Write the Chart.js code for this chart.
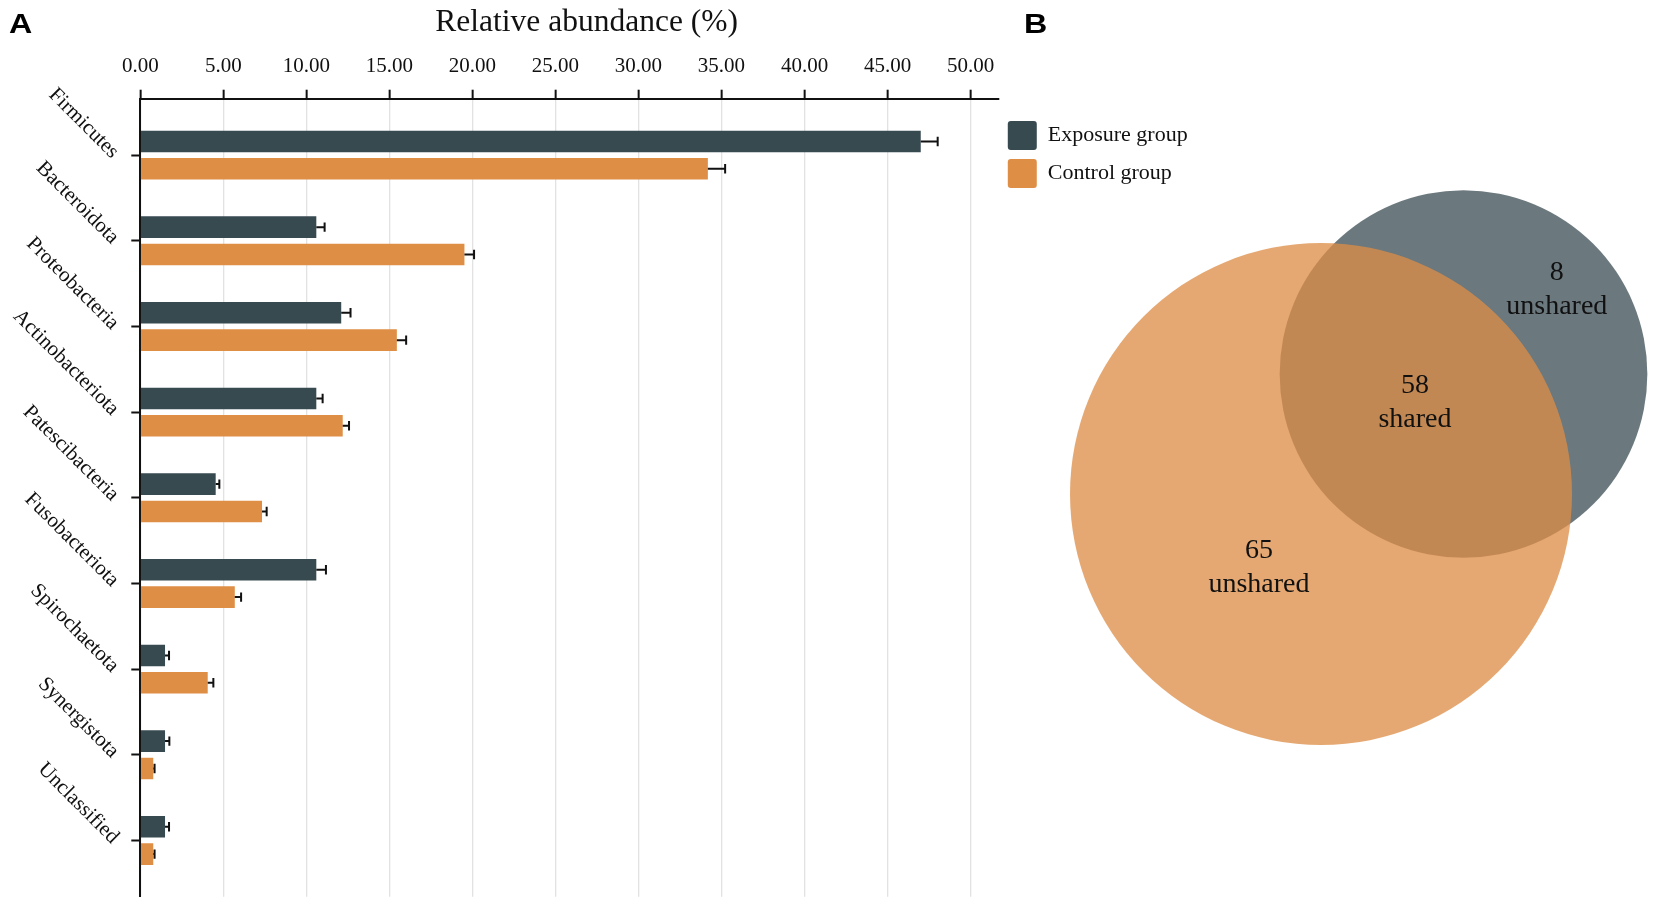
<!DOCTYPE html>
<html>
<head>
<meta charset="utf-8">
<script src="https://cdn.jsdelivr.net/npm/chart.js@4.4.1/dist/chart.umd.min.js"></script>
<style>
  html, body { margin:0; padding:0; background:#ffffff; width:1654px; height:903px; overflow:hidden; }
  #wrap { position:relative; width:1654px; height:903px; }
  canvas { position:absolute; }
  .panel { position:absolute; font-family:"Liberation Sans", Arial, sans-serif; font-weight:bold; font-size:28px; line-height:28px; color:#000; transform:scaleX(1.15); transform-origin:left top; }
</style>
</head>
<body>
<div id="wrap">
  <canvas id="bar" width="1654" height="903" style="left:0;top:0;width:1654px;height:903px"></canvas>
  <canvas id="venn" width="654" height="723" style="left:1000px;top:180px;width:654px;height:723px"></canvas>
  <div class="panel" style="left:9px;top:9.6px">A</div>
  <div class="panel" style="left:1024px;top:9.6px">B</div>
</div>
<script>
// ---------- data ----------
const categories = ['Firmicutes', 'Bacteroidota', 'Proteobacteria', 'Actinobacteriota', 'Patescibacteria',
                    'Fusobacteriota', 'Spirochaetota', 'Synergistota', 'Unclassified'];
const seriesNames = ['Exposure group', 'Control group'];
const exposureValues = [47.00, 10.60, 12.10, 10.60, 4.54, 10.60, 1.49, 1.49, 1.49];
const exposureErrors = [1.02, 0.50, 0.56, 0.38, 0.22, 0.58, 0.24, 0.26, 0.24];
const controlValues  = [34.18, 19.52, 15.45, 12.19, 7.33, 5.69, 4.06, 0.78, 0.78];
const controlErrors  = [1.04, 0.58, 0.56, 0.38, 0.28, 0.38, 0.34, 0.08, 0.08];
const xTickValues = [0, 5, 10, 15, 20, 25, 30, 35, 40, 45, 50];
const axisTitle = 'Relative abundance (%)';

// Venn: control only, shared, exposure only
const vennCounts = [65, 58, 8];
const vennSubLabels = ['unshared', 'shared', 'unshared'];

// ---------- styling / layout ----------
const FONT = 'Liberation Serif';
const INK = '#111111';
const exposureColor = '#374a50';
const controlColor = '#df8e45';

const errorBarPlugin = {
  id: 'errorBars',
  afterDatasetsDraw(chart) {
    const ctx = chart.ctx;
    const xs = chart.scales.x;
    chart.data.datasets.forEach((ds, di) => {
      const meta = chart.getDatasetMeta(di);
      meta.data.forEach((bar, i) => {
        const v = ds.data[i].x;
        const e = ds.errors[i];
        const x0 = bar.x;
        const x1 = xs.getPixelForValue(v + e);
        const y = bar.y;
        ctx.save();
        ctx.strokeStyle = INK;
        ctx.lineWidth = 2;
        ctx.beginPath();
        ctx.moveTo(x0, y); ctx.lineTo(x1, y);
        ctx.moveTo(x1, y - 4.7); ctx.lineTo(x1, y + 4.7);
        ctx.stroke();
        ctx.restore();
      });
    });
  }
};

new Chart(document.getElementById('bar'), {
  type: 'bar',
  data: {
    datasets: [
      { label: seriesNames[0], data: exposureValues.map((v, i) => ({ x: v, y: i })), errors: exposureErrors,
        backgroundColor: exposureColor, borderWidth: 0, categoryPercentage: 0.638, barPercentage: 0.79 },
      { label: seriesNames[1], data: controlValues.map((v, i) => ({ x: v, y: i })), errors: controlErrors,
        backgroundColor: controlColor, borderWidth: 0, categoryPercentage: 0.638, barPercentage: 0.79 }
    ]
  },
  options: {
    indexAxis: 'y',
    responsive: false,
    animation: false,
    events: [],
    devicePixelRatio: 1,
    layout: { padding: { left: -24.4, right: 456.3, top: 0, bottom: 6.3 } },
    scales: {
      x: {
        type: 'linear', position: 'top', min: 0, max: 51.7,
        afterBuildTicks: s => { s.ticks = xTickValues.map(v => ({ value: v })); },
        afterFit: s => { s.paddingLeft = 0; s.paddingRight = 0; },
        ticks: { padding: 11, maxRotation: 0, autoSkip: false, color: INK,
                 font: { family: FONT, size: 21 }, callback: v => Number(v).toFixed(2) },
        grid: { color: '#e2e2e2', lineWidth: 1.3, tickColor: INK, tickLength: 9, tickWidth: 2 },
        border: { color: INK, width: 2 }
      },
      y: {
        type: 'linear', reverse: true, min: -0.659, max: 8.657, offset: false,
        afterBuildTicks: s => { s.ticks = categories.map((c, i) => ({ value: i })); },
        afterFit: s => { s.width = 164.7; s.paddingTop = 0; s.paddingBottom = 0; },
        ticks: { minRotation: -45, maxRotation: -45, padding: 16, autoSkip: false, color: INK,
                 font: { family: FONT, size: 21 }, callback: v => categories[v] },
        grid: { offset: false, drawOnChartArea: false, tickColor: INK, tickLength: 9, tickWidth: 2 },
        border: { color: INK, width: 2 }
      }
    },
    plugins: {
      title: { display: true, text: axisTitle, color: INK,
               font: { family: FONT, size: 31.5, weight: 'normal' }, padding: { top: 4, bottom: 0.7 } },
      legend: {
        position: 'right', align: 'start', fullSize: false,
        title: { display: true, text: '', font: { size: 10, lineHeight: 1 }, padding: { top: 0, bottom: 3.4 } },
        labels: { boxWidth: 29, boxHeight: 29, padding: 9, color: INK,
                  font: { family: FONT, size: 22 }, useBorderRadius: true, borderRadius: 3 }
      },
      tooltip: { enabled: false }
    }
  },
  plugins: [errorBarPlugin]
});

// ---------- Venn ----------
const vennW = 654, vennH = 723;
const vennPxPerUnit = 22.63;                 // pixels per sqrt(count)
const vennOrigin = { x: 321, y: 314 };       // control circle centre inside the venn canvas (px)
const vennOffset = { x: 6.297, y: 5.303 };   // exposure circle centre relative to control (units)
const vennLabelPos = [ { x: -2.74, y: -2.84 }, { x: 4.15, y: 4.46 }, { x: 10.42, y: 9.46 } ];
const controlTotal = vennCounts[0] + vennCounts[1];
const exposureTotal = vennCounts[1] + vennCounts[2];

const vennLabelPlugin = {
  id: 'vennLabels',
  afterDatasetsDraw(chart) {
    const { ctx, scales: { x, y } } = chart;
    ctx.save();
    ctx.fillStyle = INK;
    ctx.font = '28px "' + FONT + '"';
    ctx.textAlign = 'center';
    ctx.textBaseline = 'alphabetic';
    vennCounts.forEach((n, i) => {
      const px = x.getPixelForValue(vennLabelPos[i].x);
      const py = y.getPixelForValue(vennLabelPos[i].y);
      ctx.fillText(String(n), px, py);
      ctx.fillText(vennSubLabels[i], px, py + 34);
    });
    ctx.restore();
  }
};

new Chart(document.getElementById('venn'), {
  type: 'bubble',
  data: {
    datasets: [
      { label: seriesNames[1], data: [{ x: 0, y: 0, r: vennPxPerUnit * Math.sqrt(controlTotal) }],
        backgroundColor: 'rgba(221,142,72,0.77)', borderWidth: 0, clip: false },
      { label: seriesNames[0], data: [{ x: vennOffset.x, y: vennOffset.y, r: vennPxPerUnit * Math.sqrt(exposureTotal) }],
        backgroundColor: 'rgba(55,73,79,0.74)', borderWidth: 0, clip: false }
    ]
  },
  options: {
    responsive: false,
    animation: false,
    events: [],
    devicePixelRatio: 1,
    layout: { padding: 0, autoPadding: false },
    scales: {
      x: { type: 'linear', display: false, min: -vennOrigin.x / vennPxPerUnit, max: (vennW - vennOrigin.x) / vennPxPerUnit },
      y: { type: 'linear', display: false, min: -(vennH - vennOrigin.y) / vennPxPerUnit, max: vennOrigin.y / vennPxPerUnit }
    },
    plugins: { legend: { display: false }, tooltip: { enabled: false } }
  },
  plugins: [vennLabelPlugin]
});
</script>
</body>
</html>
